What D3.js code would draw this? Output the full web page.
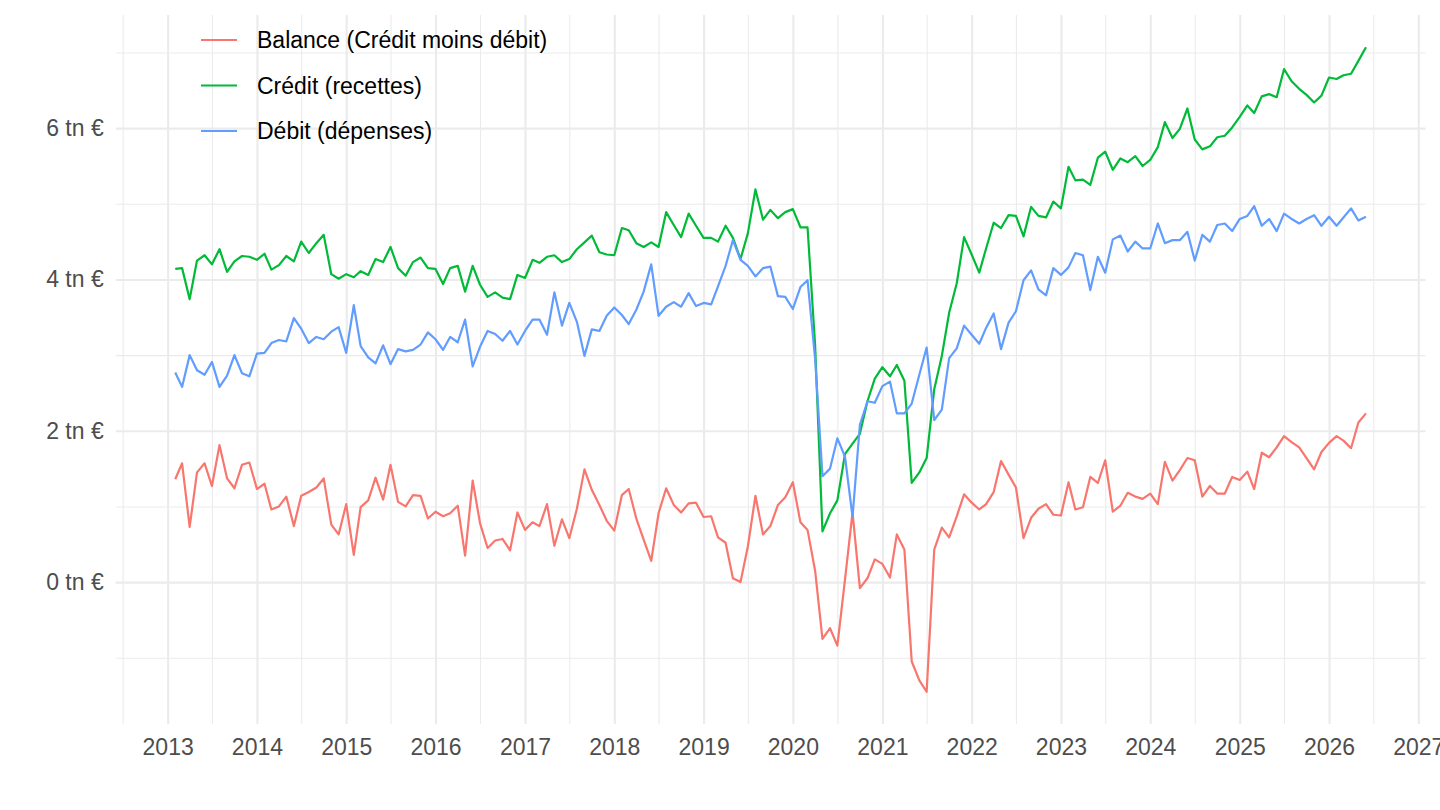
<!DOCTYPE html>
<html>
<head>
<meta charset="utf-8">
<script src="https://cdn.jsdelivr.net/npm/d3@7"></script>
<style>
  body { margin: 0; background: #fff; }
  svg { display: block; font-family: "Liberation Sans", Arial, Helvetica, sans-serif; }
</style>
</head>
<body>
<div id="chart"></div>
<script>
// Monthly series, first value = February 2013, last = June 2026 (tn €)
var firstMonth = [2013, 1];

var seriesNames = ["Balance (Crédit moins débit)", "Crédit (recettes)", "Débit (dépenses)"];

var credit = [
    4.14, 4.15, 3.74, 4.25, 4.32, 4.20, 4.40, 4.10, 4.24, 4.31, 4.30, 4.26,
    4.34, 4.13, 4.19, 4.31, 4.24, 4.50, 4.35, 4.48, 4.59, 4.07, 4.01, 4.07,
    4.03, 4.11, 4.06, 4.27, 4.23, 4.43, 4.15, 4.05, 4.23, 4.29, 4.15, 4.14,
    3.94, 4.15, 4.18, 3.84, 4.18, 3.93, 3.77, 3.83, 3.76, 3.74, 4.06, 4.02,
    4.26, 4.22, 4.30, 4.32, 4.23, 4.27, 4.40, 4.49, 4.58, 4.36, 4.33, 4.32,
    4.68, 4.65, 4.48, 4.43, 4.49, 4.43, 4.89, 4.72, 4.56, 4.87, 4.71, 4.55,
    4.55, 4.50, 4.71, 4.55, 4.27, 4.61, 5.19, 4.79, 4.92, 4.81, 4.89, 4.93,
    4.69, 4.69, 3.13, 0.67, 0.91, 1.08, 1.69, 1.83, 1.96, 2.39, 2.69, 2.84,
    2.72, 2.87, 2.66, 1.31, 1.45, 1.64, 2.55, 2.99, 3.56, 3.95, 4.56, 4.33,
    4.09, 4.41, 4.75, 4.68, 4.85, 4.84, 4.57, 4.96, 4.84, 4.82, 5.03, 4.94,
    5.49, 5.31, 5.32, 5.25, 5.61, 5.69, 5.45, 5.60, 5.55, 5.63, 5.50, 5.58,
    5.75, 6.08, 5.87, 5.99, 6.26, 5.85, 5.72, 5.76, 5.88, 5.90, 6.01, 6.15,
    6.30, 6.20, 6.42, 6.45, 6.41, 6.78, 6.62, 6.52, 6.44, 6.34, 6.43, 6.67,
    6.65, 6.70, 6.72, 6.89, 7.07
];

var debit = [
    2.77, 2.58, 3.00, 2.80, 2.74, 2.91, 2.58, 2.73, 3.00, 2.76, 2.72, 3.02,
    3.03, 3.16, 3.20, 3.18, 3.49, 3.35, 3.16, 3.24, 3.21, 3.31, 3.37, 3.03,
    3.66, 3.12, 2.97, 2.89, 3.13, 2.88, 3.08, 3.05, 3.07, 3.14, 3.30, 3.21,
    3.07, 3.24, 3.17, 3.47, 2.85, 3.11, 3.32, 3.28, 3.19, 3.32, 3.14, 3.32,
    3.47, 3.47, 3.27, 3.83, 3.39, 3.69, 3.44, 2.99, 3.34, 3.32, 3.52, 3.63,
    3.53, 3.41, 3.60, 3.84, 4.20, 3.52, 3.64, 3.70, 3.64, 3.82, 3.65, 3.69,
    3.67, 3.91, 4.18, 4.52, 4.26, 4.18, 4.04, 4.15, 4.17, 3.78, 3.77, 3.61,
    3.90, 3.99, 2.95, 1.40, 1.50, 1.90, 1.66, 0.86, 2.08, 2.39, 2.37, 2.59,
    2.65, 2.23, 2.23, 2.36, 2.74, 3.10, 2.14, 2.28, 2.96, 3.09, 3.39, 3.27,
    3.15, 3.36, 3.55, 3.08, 3.43, 3.58, 3.99, 4.12, 3.87, 3.79, 4.15, 4.06,
    4.16, 4.35, 4.32, 3.86, 4.30, 4.09, 4.53, 4.58, 4.37, 4.50, 4.41, 4.41,
    4.74, 4.48, 4.52, 4.52, 4.63, 4.25, 4.59, 4.50, 4.72, 4.74, 4.64, 4.80,
    4.84, 4.97, 4.71, 4.80, 4.64, 4.87, 4.80, 4.74, 4.80, 4.85, 4.71, 4.83,
    4.71, 4.82, 4.94, 4.78, 4.83
];

var balance = [
    1.36, 1.57, 0.73, 1.45, 1.57, 1.27, 1.81, 1.37, 1.24, 1.55, 1.58, 1.23,
    1.30, 0.96, 1.00, 1.13, 0.74, 1.14, 1.19, 1.25, 1.37, 0.76, 0.63, 1.03,
    0.36, 0.99, 1.08, 1.38, 1.09, 1.55, 1.06, 1.00, 1.15, 1.14, 0.84, 0.93,
    0.87, 0.91, 1.01, 0.35, 1.34, 0.78, 0.45, 0.55, 0.57, 0.42, 0.92, 0.69,
    0.79, 0.74, 1.03, 0.48, 0.83, 0.58, 0.97, 1.49, 1.22, 1.02, 0.81, 0.68,
    1.15, 1.23, 0.84, 0.56, 0.28, 0.91, 1.24, 1.02, 0.92, 1.04, 1.05, 0.86,
    0.87, 0.59, 0.52, 0.05, 0.00, 0.47, 1.14, 0.63, 0.74, 1.02, 1.12, 1.32,
    0.79, 0.69, 0.15, -0.75, -0.61, -0.84, 0.03, 0.92, -0.08, 0.05, 0.30, 0.24,
    0.06, 0.63, 0.43, -1.05, -1.30, -1.45, 0.43, 0.72, 0.59, 0.87, 1.16, 1.05,
    0.96, 1.03, 1.19, 1.60, 1.42, 1.25, 0.58, 0.85, 0.97, 1.03, 0.89, 0.88,
    1.32, 0.96, 0.99, 1.39, 1.31, 1.61, 0.93, 1.01, 1.18, 1.13, 1.10, 1.17,
    1.03, 1.59, 1.34, 1.48, 1.64, 1.61, 1.13, 1.27, 1.17, 1.17, 1.39, 1.35,
    1.46, 1.23, 1.71, 1.65, 1.78, 1.93, 1.85, 1.78, 1.64, 1.49, 1.72, 1.84,
    1.93, 1.87, 1.77, 2.11, 2.23
];

var yMajorTicks = [0, 2, 4, 6];
var yMinorTicks = [-1, 1, 3, 5, 7];
var xYearTicks = [2013, 2014, 2015, 2016, 2017, 2018, 2019, 2020, 2021, 2022, 2023, 2024, 2025, 2026, 2027];

function init() {
    var w = 1440;
    var h = 810;
    var left = 115.7, right = 1425.5, top = 15, bottom = 724;

    var colors = ["#F8766D", "#00BA38", "#619CFF"];

    var months = balance.map(function (d, i) {
        return new Date(firstMonth[0], firstMonth[1] + i, 1);
    });

    var dataset = [balance, credit, debit].map(function (values, k) {
        return {
            name: seriesNames[k],
            color: colors[k],
            values: values.map(function (v, i) { return { date: months[i], value: v }; })
        };
    });

    // ggplot-like 5% expansion of both scales
    var t0 = months[0].getTime(), t1 = months[months.length - 1].getTime();
    var tPad = (t1 - t0) * 0.05;
    var all = balance.concat(credit, debit);
    var yMin = d3.min(all), yMax = d3.max(all);
    var yPad = (yMax - yMin) * 0.05;

    var xScale = d3.scaleTime()
        .domain([new Date(t0 - tPad), new Date(t1 + tPad)])
        .range([left, right]);

    var yScale = d3.scaleLinear()
        .domain([yMin - yPad, yMax + yPad])
        .range([bottom, top]);

    var svg = d3.select("#chart")
        .append("svg")
        .attr("width", w)
        .attr("height", h);

    var yearDates = xYearTicks.map(function (y) { return new Date(y, 0, 1); });
    var halfDates = d3.range(2012, 2027).map(function (y) { return new Date(y, 6, 1); })
        .filter(function (d) { return d >= xScale.domain()[0] && d <= xScale.domain()[1]; });

    // grid lines
    function grid(g, width) {
        g.select(".domain").remove();
        g.selectAll("line").attr("stroke", "#EBEBEB").attr("stroke-width", width);
    }

    svg.append("g")
        .attr("transform", "translate(0," + bottom + ")")
        .call(d3.axisBottom(xScale).tickValues(halfDates).tickSize(-(bottom - top)).tickFormat(""))
        .call(grid, 1.1);

    svg.append("g")
        .attr("transform", "translate(" + left + ",0)")
        .call(d3.axisLeft(yScale).tickValues(yMinorTicks).tickSize(-(right - left)).tickFormat(""))
        .call(grid, 1.1);

    svg.append("g")
        .attr("transform", "translate(0," + bottom + ")")
        .call(d3.axisBottom(xScale).tickValues(yearDates).tickSize(-(bottom - top)).tickFormat(""))
        .call(grid, 2.1);

    svg.append("g")
        .attr("transform", "translate(" + left + ",0)")
        .call(d3.axisLeft(yScale).tickValues(yMajorTicks).tickSize(-(right - left)).tickFormat(""))
        .call(grid, 2.1);

    // axis labels
    var xAxis = svg.append("g")
        .attr("transform", "translate(0," + bottom + ")")
        .call(d3.axisBottom(xScale).tickValues(yearDates).tickSize(0).tickPadding(14.5)
            .tickFormat(d3.timeFormat("%Y")));
    xAxis.select(".domain").remove();
    xAxis.selectAll("text").attr("fill", "#4D4D4D").style("font-size", "23px");

    var yAxis = svg.append("g")
        .attr("transform", "translate(" + left + ",0)")
        .call(d3.axisLeft(yScale).tickValues(yMajorTicks).tickSize(0).tickPadding(12)
            .tickFormat(function (d) { return d + " tn €"; }));
    yAxis.select(".domain").remove();
    yAxis.selectAll("text").attr("fill", "#4D4D4D").style("font-size", "23px");

    // lines
    var line = d3.line()
        .x(function (d) { return xScale(d.date); })
        .y(function (d) { return yScale(d.value); });

    svg.selectAll(".series")
        .data(dataset)
        .enter()
        .append("path")
        .attr("class", "series")
        .attr("fill", "none")
        .attr("stroke", function (d) { return d.color; })
        .attr("stroke-width", 2.2)
        .attr("stroke-linejoin", "round")
        .attr("d", function (d) { return line(d.values); });

    // legend
    var legend = svg.append("g")
        .selectAll("g")
        .data(dataset)
        .enter()
        .append("g")
        .attr("transform", function (d, i) { return "translate(201," + (40 + i * 45.5) + ")"; });

    legend.append("line")
        .attr("x1", 0)
        .attr("x2", 36)
        .attr("stroke", function (d) { return d.color; })
        .attr("stroke-width", 2.2);

    legend.append("text")
        .attr("x", 56)
        .attr("dy", "0.35em")
        .attr("fill", "#000")
        .style("font-size", "23px")
        .text(function (d) { return d.name; });
}

window.onload = init;
</script>
</body>
</html>
